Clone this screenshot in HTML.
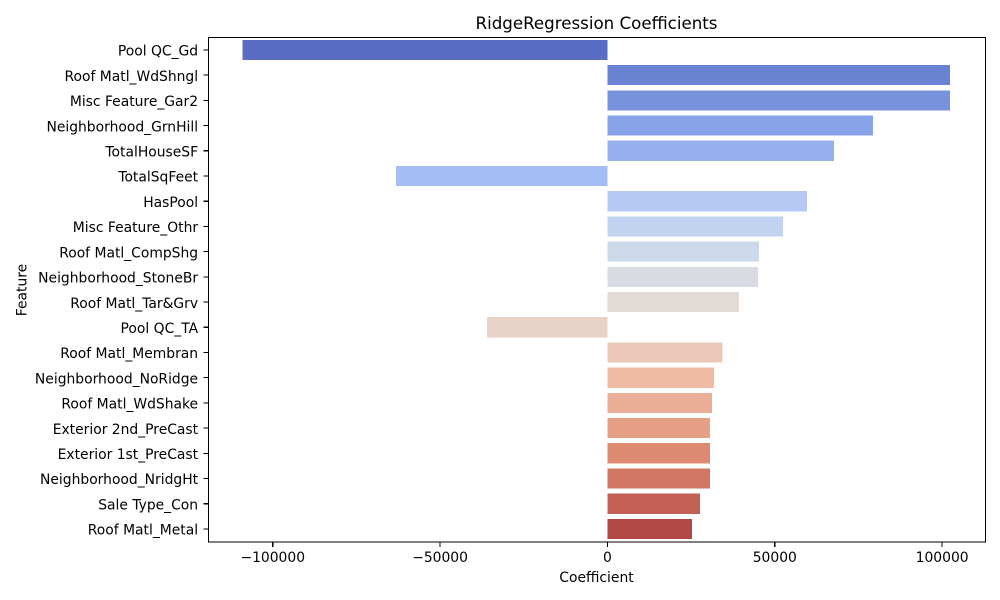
<!DOCTYPE html>
<html lang="en">
<head>
<meta charset="utf-8">
<title>RidgeRegression Coefficients</title>
<style>
html,body{margin:0;padding:0;background:#fff;width:1000px;height:600px;overflow:hidden}
svg{display:block}
text{font-family:"DejaVu Sans",sans-serif;fill:#000}
#bars rect,#yticks line,#xticks line,#frame{shape-rendering:crispEdges}
</style>
</head>
<body>
<svg id="chart" xmlns="http://www.w3.org/2000/svg" width="1000" height="600" viewBox="0 0 1000 600">
<rect x="0" y="0" width="1000" height="600" fill="#fff"/>
<g id="bars"></g>
<g id="yticks"></g>
<g id="xticks"></g>
<rect id="frame" x="208.5" y="37.5" width="777" height="504.5" fill="none" stroke="#000" stroke-width="1.11"/>
<text x="596.5" y="29" text-anchor="middle" font-size="16.67">RidgeRegression Coefficients</text>
<text x="596.5" y="582" text-anchor="middle" font-size="13.89">Coefficient</text>
<text transform="translate(26.5,290) rotate(-90)" text-anchor="middle" font-size="13.89">Feature</text>
</svg>
<script>
const features = ["Pool QC_Gd","Roof Matl_WdShngl","Misc Feature_Gar2","Neighborhood_GrnHill","TotalHouseSF","TotalSqFeet","HasPool","Misc Feature_Othr","Roof Matl_CompShg","Neighborhood_StoneBr","Roof Matl_Tar&Grv","Pool QC_TA","Roof Matl_Membran","Neighborhood_NoRidge","Roof Matl_WdShake","Exterior 2nd_PreCast","Exterior 1st_PreCast","Neighborhood_NridgHt","Sale Type_Con","Roof Matl_Metal"];
const coefficients = [-109000,102400,102400,79400,67700,-63200,59600,52500,45300,45000,39300,-36000,34300,31900,31300,30700,30700,30700,27700,25300];
const barColors = ["#5a6dc2","#6a82d2","#7892de","#88a3e8","#98b1ee","#a5bdf3","#b5c9f2","#c2d3f0","#cdd8ea","#d9dbe2","#e2dad5","#e8d1c7","#e9c8b7","#efbba5","#eaad95","#e49f86","#dc8a72","#d17662","#c46055","#b14747"];
const xTickValues = [-100000,-50000,0,50000,100000];
const xTickLabels = ["\u2212100000","\u221250000","0","50000","100000"];

const plotLeft = 208.5, plotRight = 985.5, plotTop = 37.35, plotBottom = 542;
const zeroX = 607.45, pxPerUnit = 0.003347;
const SVGNS = "http://www.w3.org/2000/svg";
function xScale(v){ return zeroX + v * pxPerUnit; }
const bandHeight = 25.21;
function yScale(i){ return plotTop + (i + 0.5) * bandHeight; }
function mk(tag, parent, attrs){
  const el = document.createElementNS(SVGNS, tag);
  for (const k in attrs) el.setAttribute(k, attrs[k]);
  parent.appendChild(el);
  return el;
}
const barsG = document.getElementById("bars");
const yG = document.getElementById("yticks");
const xG = document.getElementById("xticks");

features.forEach(function(name, i){
  const x0 = xScale(0), x1 = xScale(coefficients[i]);
  const bar = mk("rect", barsG, {
    x: Math.min(x0, x1), y: yScale(i) - bandHeight * 0.4,
    width: Math.abs(x1 - x0), height: bandHeight * 0.8, fill: barColors[i]
  });
  
  

  const tick = mk("line", yG, {
    x1: plotLeft - 4.86, x2: plotLeft, y1: yScale(i), y2: yScale(i),
    stroke: "#000", "stroke-width": 1.11
  });
  
  

  const label = mk("text", yG, {
    x: plotLeft - 10.4, y: yScale(i) + 5.7, "text-anchor": "end", "font-size": 13.89
  });
  label.textContent = name;
  
  
});

xTickValues.forEach(function(v, i){
  const tick = mk("line", xG, {
    x1: xScale(v), x2: xScale(v), y1: plotBottom, y2: plotBottom + 4.86,
    stroke: "#000", "stroke-width": 1.11
  });
  
  

  const label = mk("text", xG, {
    x: xScale(v), y: plotBottom + 20, "text-anchor": "middle", "font-size": 13.89
  });
  label.textContent = xTickLabels[i];
  
  
});
</script>
</body>
</html>
